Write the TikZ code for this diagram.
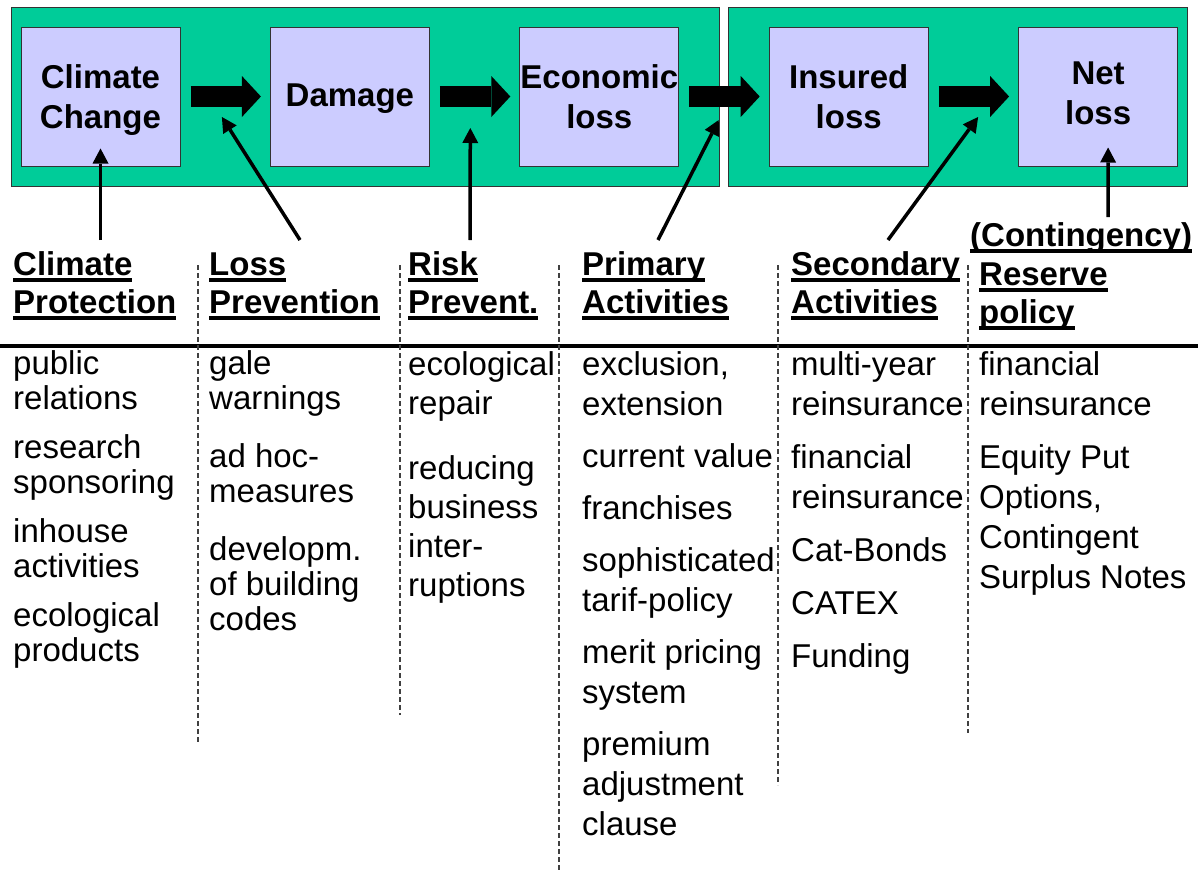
\documentclass[tikz,border=0pt]{standalone}
\usepackage{fontspec}
\setmainfont{Liberation Sans}
\usetikzlibrary{arrows.meta, positioning}

\definecolor{panelgreen}{RGB}{0,204,153}
\definecolor{stagefill}{RGB}{204,204,255}

\newcommand{\uln}[1]{\setbox0\hbox{#1}\rlap{\rule[-6.5pt]{\wd0}{4pt}}\box0}

\begin{document}
\begin{tikzpicture}[x=1pt, y=-1pt,
		panel/.style = {rectangle, draw=black!80, fill=panelgreen, line width=1pt, inner sep=0pt},
		stage/.style = {rectangle, draw=black!80, fill=stagefill, line width=1pt, inner sep=0pt, minimum width=159pt, minimum height=139pt, align=center, font=\fontsize{33}{40}\selectfont\bfseries},
		flow/.style = {line width=21pt, -{Triangle[length=19pt, width=41pt, line width=0pt]}},
		arrow/.style = {line width=3.5pt, -{Triangle[length=15pt, width=16pt, line width=0pt]}},
		head/.style = {anchor=base west, inner sep=0pt, align=left, font=\fontsize{33}{38}\selectfont\bfseries},
		items/.style = {anchor=base west, inner sep=0pt, align=left, font=\fontsize{33}{40}\selectfont},
		tight/.style = {font=\fontsize{33}{35}\selectfont},
		sep/.style = {black!75, line width=1.5pt, dash pattern=on 5pt off 3pt}
		]
		\useasboundingbox (0,0) rectangle (1204,870);
		
		% Panels
		\node[panel, minimum width=708pt, minimum height=179pt] (lpanel) at (365,96.5) {};
		\node[panel, minimum width=459pt, minimum height=179pt] (rpanel) at (957.5,96.5) {};
		
		% Stages
		\node[stage, text depth=0pt] (cc) at (100.5,96.5) {Climate\\Change};
		\node[stage, right=89.4pt of cc, text depth=3pt] (dmg) {Damage};
		\node[stage, right=89.4pt of dmg] (eco) {Economic\\loss};
		\node[stage, right=89.4pt of eco] (ins) {Insured\\loss};
		\node[stage, right=89.4pt of ins, text depth=6pt] (net) {Net\\loss};
		
		% Flow
		\draw[flow] ([xshift=10pt]cc.east) -- ([xshift=-9pt]dmg.west);
		\draw[flow] ([xshift=10pt]dmg.east) -- ([xshift=-9pt]eco.west);
		\draw[flow] ([xshift=10pt]eco.east) -- ([xshift=-9pt]ins.west);
		\draw[flow] ([xshift=10pt]ins.east) -- ([xshift=-9pt]net.west);
		
		% Headings (anchored at the last line)
		\node[head] (hcp) at (13,313) {\uln{Climate}\\\uln{Protection}};
		\node[head] (hlp) at (209,313) {\uln{Loss}\\\uln{Prevention}};
		\node[head] (hrp) at (408,313) {\uln{Risk}\\\uln{Prevent.}};
		\node[head] (hpa) at (582,313) {\uln{Primary}\\\uln{Activities}};
		\node[head] (hsa) at (791,313) {\uln{Secondary}\\\uln{Activities}};
		\node[head] (hcg) at (970,246) {\uln{(Contingency)}};
		\node[head] (hrs) at (979,323) {\uln{Reserve}\\\uln{policy}};
		
		% Arrow tails
		\coordinate (tcp) at (100.5,240);
		\coordinate (tlp) at (300,240);
		\coordinate (trp) at (470,240);
		\coordinate (tpa) at (658,240);
		\coordinate (tsa) at (888,240);
		\coordinate (trs) at (1108,217);
		
		% Arrows
		\draw[arrow] (tcp) -- ([yshift=18pt]cc.south);
		\draw[arrow] (tlp) -- ([xshift=-48pt, yshift=-20.5pt]dmg.west);
		\draw[arrow] (trp) -- ([xshift=-49pt, yshift=-31.5pt]eco.west);
		\draw[arrow] (tpa) -- ([xshift=-50pt, yshift=-23.5pt]ins.west);
		\draw[arrow] (tsa) -- ([xshift=-40pt, yshift=-20.5pt]net.west);
		\draw[arrow] (trs) -- ([xshift=10pt, yshift=19pt]net.south);
		
		% Rule and separators
		\draw[line width=4pt] (0,345.5) -- (1198,345.5);
		\draw[sep] (198,265) -- (198,742);
		\draw[sep] (400,265) -- (400,715);
		\draw[sep] (559,265) -- (559,870);
		\draw[sep] (778,265) -- (778,785);
		\draw[sep] (968,265) -- (968,733);
		
		% Items (anchored at the last line)
		\node[items, tight] (icp) at (13,661) {public\\relations\\[14pt]research\\sponsoring\\[14pt]inhouse\\activities\\[14pt]ecological\\products};
		\node[items, tight] (ilp) at (209,630) {gale\\warnings\\[23pt]ad hoc-\\measures\\[23pt]developm.\\of building\\codes};
		\node[items, font=\fontsize{33}{39}\selectfont] (irp) at (408,596) {ecological\\repair\\[26pt]reducing\\business\\inter-\\ruptions};
		\node[items] (ipa) at (582,835) {exclusion,\\extension\\[12pt]current value\\[12pt]franchises\\[12pt]sophisticated\\tarif-policy\\[12pt]merit pricing\\system\\[12pt]premium\\adjustment\\clause};
		\node[items] (isa) at (791,667) {multi-year\\reinsurance\\[13pt]financial\\reinsurance\\[13pt]Cat-Bonds\\[13pt]CATEX\\[13pt]Funding};
		\node[items] (irs) at (979,588) {financial\\reinsurance\\[13pt]Equity Put\\Options,\\Contingent\\Surplus Notes};
		
	\end{tikzpicture}
\end{document}
